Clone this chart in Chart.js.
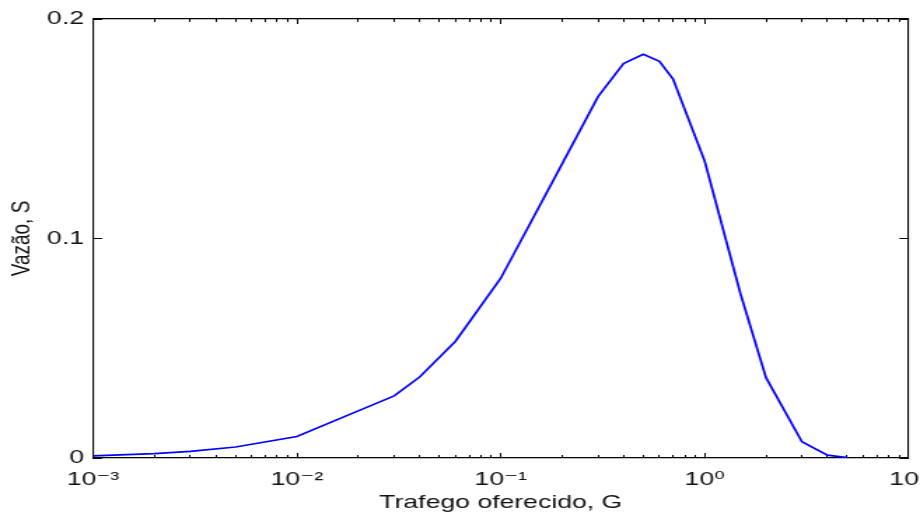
<!DOCTYPE html>
<html><head><meta charset="utf-8">
<script src="https://cdn.jsdelivr.net/npm/chart.js@4.4.1/dist/chart.umd.min.js"></script>
<style>
html,body{margin:0;padding:0;background:#fff;overflow:hidden;width:920px;height:513px}
#wrap{width:657px;height:513px;transform:scaleX(1.40030);transform-origin:0 0}
canvas{display:block}
</style></head><body>
<div id="wrap"><canvas id="c" width="657" height="513" style="width:657px;height:513px"></canvas></div>
<script>
// ---- data ----
const offeredTraffic = [0.001, 0.002, 0.003, 0.005, 0.01, 0.03, 0.04, 0.06, 0.1, 0.2, 0.3, 0.4, 0.5, 0.6, 0.7, 1, 1.5, 2, 3, 4, 5];
const throughput     = [0.001, 0.002, 0.003, 0.005, 0.0098, 0.0283, 0.0369, 0.0532, 0.0819, 0.134, 0.1646, 0.1797, 0.1839, 0.1807, 0.1726, 0.1353, 0.0747, 0.0366, 0.0074, 0.0013, 0.0002];
const xMajorTicks   = [0.001, 0.01, 0.1, 1, 10];
const xMajorLabels  = ['10⁻³', '10⁻²', '10⁻¹', '10⁰', '10¹'];
const xMinorFactors = [2, 3, 4, 5, 6, 7, 8, 9];
const yTicks        = [0, 0.1, 0.2];
const yTickLabels   = ['0', '0.1', '0.2'];
const xTitle = 'Trafego oferecido, G';
const yTitle = 'Vazão, S';

// ---- derived tick lists ----
const xAllTicks = [];
xMajorTicks.forEach((m, i) => {
  xAllTicks.push(m);
  if (i < xMajorTicks.length - 1) xMinorFactors.forEach(f => xAllTicks.push(+(m * f).toPrecision(6)));
});
const majorIndex = v => xMajorTicks.findIndex(m => Math.abs(m - v) / m < 1e-6);
const isMajor = v => majorIndex(v) >= 0;

const FONT = "'Liberation Sans', Arial, 'DejaVu Sans', sans-serif";
const TXT = '#111';
const AX = '#000';
const CLEAR = 'rgba(0,0,0,0)';

Chart.defaults.font.family = FONT;
Chart.defaults.font.size = 19;
Chart.defaults.color = TXT;

const setXTicks = s => { s.ticks = xAllTicks.map(v => ({value: v, major: isMajor(v)})); };
const setYTicks = s => { s.ticks = yTicks.map(v => ({value: v})); };

function xAxis(extra) {
  return Object.assign({
    type: 'logarithmic', axis: 'x', min: xMajorTicks[0], max: xMajorTicks[xMajorTicks.length - 1],
    afterBuildTicks: setXTicks,
    ticks: {display: false, autoSkip: false},
    border: {display: false},
    grid: {display: true, drawOnChartArea: false, drawTicks: true, tickLength: -3, tickColor: AX, tickWidth: 1}
  }, extra);
}
function zeroH(s) { s.height = 0; s.paddingLeft = 0; s.paddingRight = 0; s.paddingTop = 0; s.paddingBottom = 0; }
function zeroW(s) { s.width = 0; s.paddingLeft = 0; s.paddingRight = 0; s.paddingTop = 0; s.paddingBottom = 0; }

const majorColor = c => (c.tick && isMajor(c.tick.value)) ? AX : CLEAR;
const minorColor = c => (c.tick && !isMajor(c.tick.value)) ? AX : CLEAR;

new Chart(document.getElementById('c'), {
  type: 'line',
  data: {
    datasets: [{
      data: offeredTraffic.map((g, i) => ({x: g, y: throughput[i]})),
      borderColor: '#0000ff', borderWidth: 1.7, pointRadius: 0, tension: 0, fill: false,
      xAxisID: 'x', yAxisID: 'y'
    }]
  },
  options: {
    responsive: false, devicePixelRatio: 1, animation: false, events: [],
    layout: {padding: {top: 19, right: 8.2, bottom: 0, left: 0}},
    plugins: {legend: {display: false}, tooltip: {enabled: false}},
    scales: {
      x: xAxis({
        position: 'bottom', weight: 10,
        ticks: {display: true, autoSkip: false, maxRotation: 0, minRotation: 0, padding: 15.6, color: TXT,
          callback: v => { const k = majorIndex(v); return k >= 0 ? xMajorLabels[k] : ''; }},
        border: {display: true, color: AX, width: 1.3},
        grid: {display: true, drawOnChartArea: false, drawTicks: true, tickLength: -5, tickColor: majorColor, tickWidth: 1},
        title: {display: true, text: xTitle, color: TXT, font: {size: 19, lineHeight: 1.05}, padding: {top: 0, bottom: 0}},
        afterFit: s => { s.height = 55; s.paddingLeft = 0; s.paddingRight = 0; }
      }),
      xMinorB: xAxis({
        position: {y: 0},
        grid: {display: true, drawOnChartArea: false, drawTicks: true, tickLength: -3, tickColor: minorColor, tickWidth: 1},
        afterFit: zeroH
      }),
      xTop: xAxis({
        position: 'top',
        border: {display: true, color: AX, width: 1.3},
        grid: {display: true, drawOnChartArea: false, drawTicks: true, tickLength: -5, tickColor: majorColor, tickWidth: 1},
        afterFit: zeroH
      }),
      xMinorT: xAxis({
        position: {y: 0.2},
        grid: {display: true, drawOnChartArea: false, drawTicks: true, tickLength: 3, tickColor: minorColor, tickWidth: 1},
        afterFit: zeroH
      }),
      y: {
        type: 'linear', axis: 'y', position: 'left', min: yTicks[0], max: yTicks[yTicks.length - 1],
        afterBuildTicks: setYTicks,
        ticks: {display: true, padding: 12.9, color: TXT, callback: (v, i) => yTickLabels[i]},
        border: {display: true, color: AX, width: 1.1},
        grid: {display: true, drawOnChartArea: false, drawTicks: true, tickLength: -6.5, tickColor: AX, tickWidth: 1},
        title: {display: true, text: yTitle, color: TXT, font: {size: 19}, padding: {top: 4.3, bottom: 0}},
        afterFit: s => { s.width = 66.4; s.paddingTop = 0; s.paddingBottom = 0; }
      },
      yRight: {
        type: 'linear', axis: 'y', position: 'right', min: yTicks[0], max: yTicks[yTicks.length - 1],
        afterBuildTicks: setYTicks,
        ticks: {display: false},
        border: {display: true, color: AX, width: 1.1},
        grid: {display: true, drawOnChartArea: false, drawTicks: true, tickLength: -6.5, tickColor: AX, tickWidth: 1},
        afterFit: zeroW
      }
    }
  }
});
</script>
</body></html>
